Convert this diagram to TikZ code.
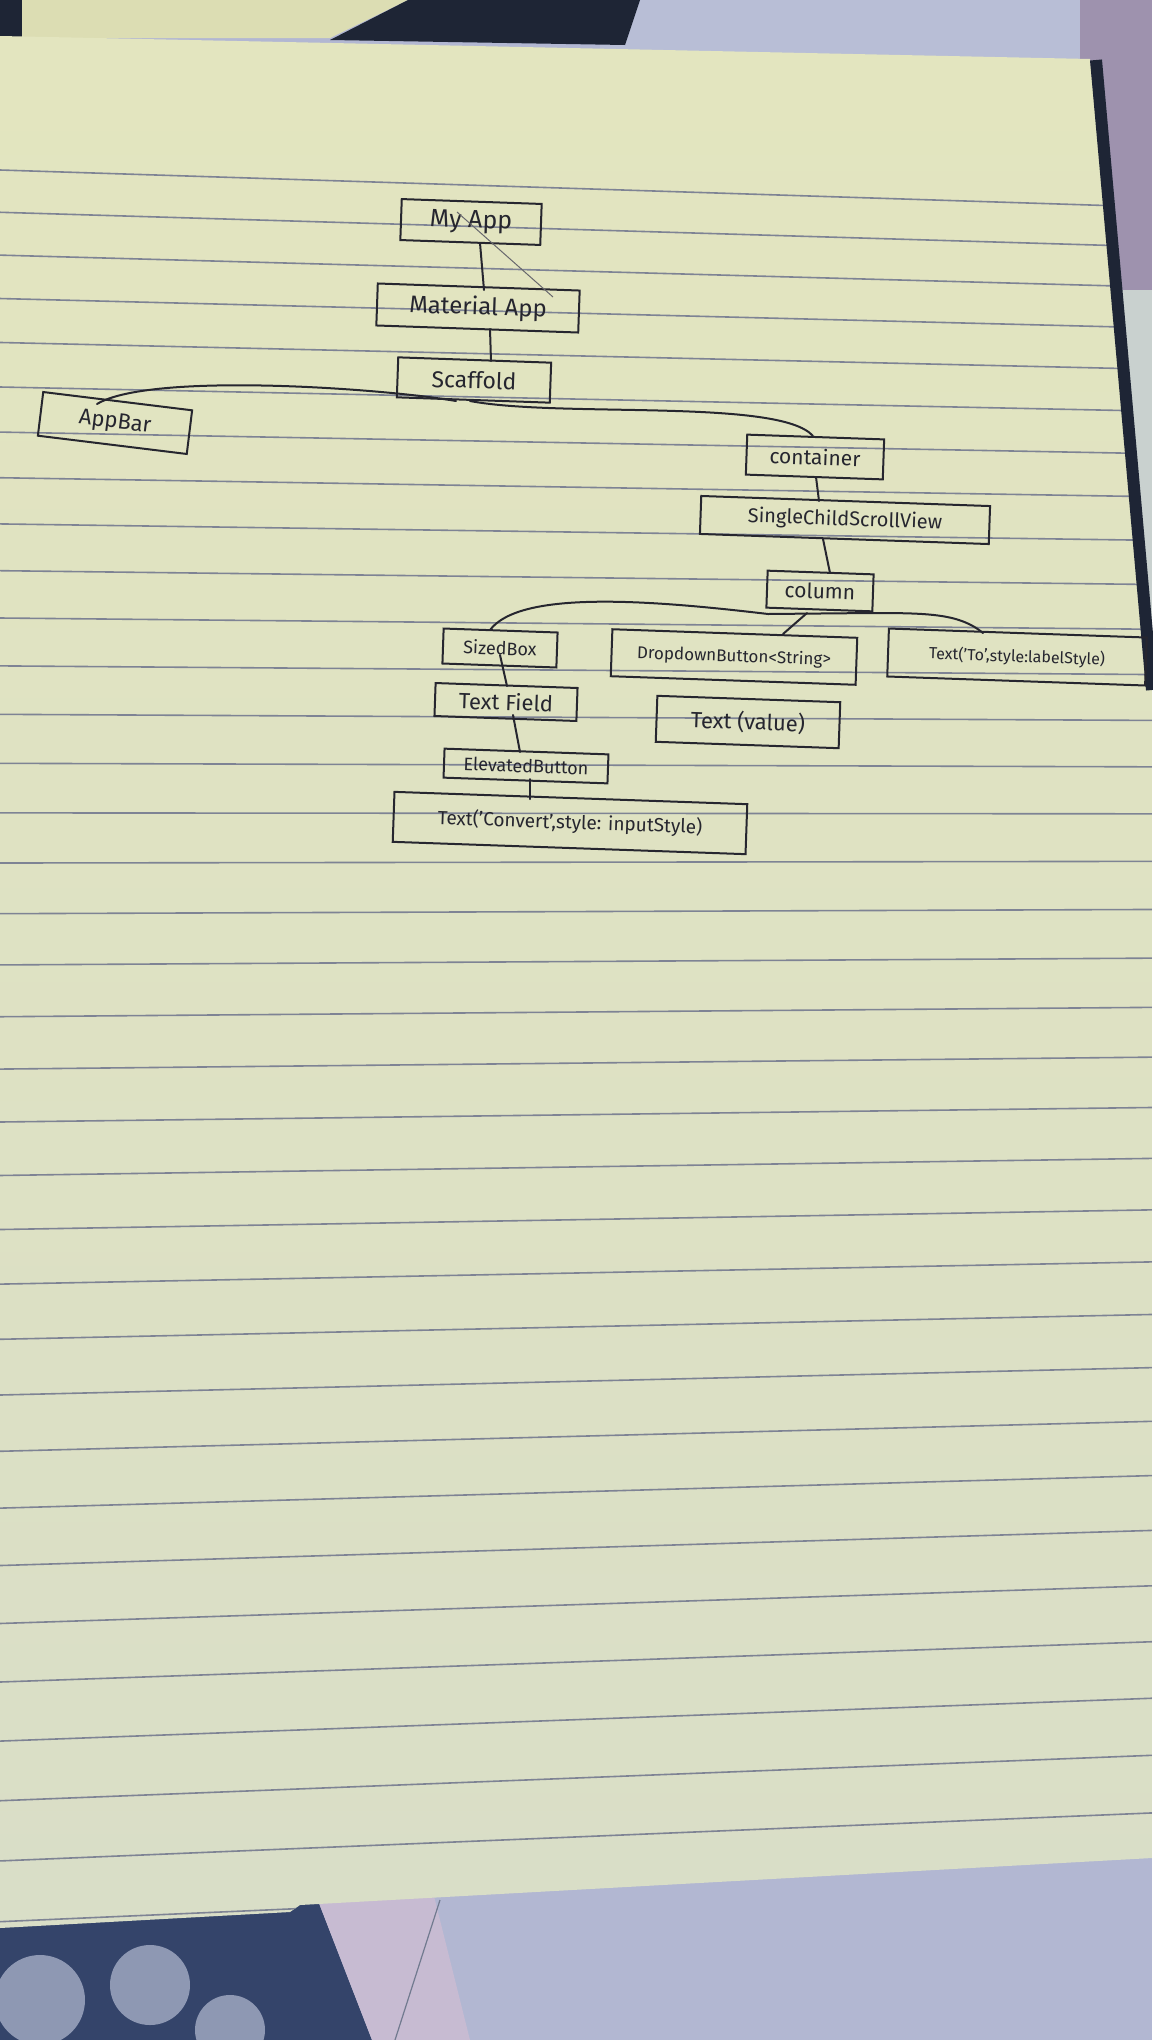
\documentclass[tikz,border=0pt]{standalone}
\usepackage{fontspec}
\setmainfont{Fira Sans}
\usetikzlibrary{calc}
\definecolor{ink}{HTML}{26262F}
\definecolor{paperT}{HTML}{E3E5BF}
\definecolor{paperB}{HTML}{D9DEC7}
\definecolor{rulec}{HTML}{7E8394}
\definecolor{navy}{HTML}{1E2535}
\definecolor{lav}{HTML}{B8BED6}
\definecolor{mauve}{HTML}{9E92AE}
\definecolor{pale}{HTML}{C9D1CF}
\definecolor{sheet}{HTML}{DCDDB3}
\definecolor{deepblue}{HTML}{34446A}
\definecolor{blob}{HTML}{8E98B3}
\definecolor{pinkish}{HTML}{C7BBD2}
\definecolor{cloth}{HTML}{B2B7D2}
\begin{document}
\begin{tikzpicture}[x=1pt,y=-1pt,
  box/.style={draw=ink, line width=2pt, inner sep=0pt, text=ink, rotate=-2},
  link/.style={draw=ink, line width=2pt, line cap=round},
  faint/.style={draw=ink!70, line width=1pt},
  rule/.style={draw=rulec, line width=1.6pt}]
\useasboundingbox (0,0) rectangle (1152,2040);
% surroundings
\fill[cloth] (0,0) rectangle (1152,2040);
\fill[lav] (600,0) rectangle (1152,70);
\fill[navy] (0,0) rectangle (22,40);
\fill[sheet] (22,0) -- (408,0) -- (330,38) -- (22,38) -- cycle;
\fill[navy] (408,0) -- (640,0) -- (625,45) -- (330,40) -- cycle;
\fill[mauve] (1080,0) rectangle (1152,290);
\fill[pale] (1100,290) rectangle (1152,690);
\fill[deepblue] (0,1880) -- (310,1880) -- (372,2040) -- (0,2040) -- cycle;
\fill[blob] (40,2000) circle (45);
\fill[blob] (150,1985) circle (40);
\fill[blob] (230,2030) circle (35);
\fill[pinkish] (310,1880) -- (430,1880) -- (470,2040) -- (372,2040) -- cycle;
\draw[blob!80!black, line width=1.2pt] (440,1900) -- (395,2040);
% paper
\path[shade, top color=paperT, bottom color=paperB]
  (0,36) -- (1090,59) -- (1148,680) -- (1152,680) -- (1152,1858)
  -- (300,1905) -- (290,1912) -- (0,1928) -- cycle;
\begin{scope}
  \clip (0,36) -- (1090,59) -- (1148,680) -- (1152,680) -- (1152,1858)
  -- (300,1905) -- (290,1912) -- (0,1928) -- cycle;
  \foreach \k in {0,...,34} {
    \pgfmathsetmacro\yl{170+42*\k+0.28*\k*\k}
    \pgfmathsetmacro\yr{\yl+37-85*\k/33}
    \draw[rule] (0,\yl) -- (1152,\yr);
  }
\end{scope}
\draw[navy, line width=12pt] (1096,60) -- (1152,690);
% nodes
\node[box, minimum width=140, minimum height=41, font=\fontsize{25}{28}\selectfont] (myapp) at (471,222) {My App};
\node[box, minimum width=202, minimum height=42, font=\fontsize{24}{28}\selectfont] (material) at (478,308) {Material App};
\node[box, minimum width=153, minimum height=40, font=\fontsize{23}{26}\selectfont] (scaffold) at (474,380) {Scaffold};
\node[box, rotate=-5, minimum width=150, minimum height=44, font=\fontsize{22}{26}\selectfont] (appbar) at (115,423) {AppBar};
\node[box, minimum width=137, minimum height=40, font=\fontsize{21}{24}\selectfont] (container) at (815,457) {container};
\node[box, minimum width=289, minimum height=38, font=\fontsize{20}{24}\selectfont] (scv) at (845,520) {SingleChildScrollView};
\node[box, minimum width=106, minimum height=37, font=\fontsize{21}{24}\selectfont] (column) at (820,591) {column};
\node[box, minimum width=114, minimum height=35, font=\fontsize{18}{22}\selectfont] (sizedbox) at (500,648) {SizedBox};
\node[box, minimum width=245, minimum height=47, font=\fontsize{17}{20}\selectfont] (dropdown) at (734,657) {DropdownButton<String>};
\node[box, minimum width=258, minimum height=48, font=\fontsize{16}{20}\selectfont] (textto) at (1017,657) {Text('To',style:labelStyle)};
\node[box, minimum width=142, minimum height=33, font=\fontsize{22}{24}\selectfont] (textfield) at (506,702) {Text Field};
\node[box, minimum width=183, minimum height=46, font=\fontsize{22}{24}\selectfont] (textvalue) at (748,722) {Text (value)};
\node[box, minimum width=164, minimum height=29, font=\fontsize{18}{20}\selectfont] (elevated) at (526,766) {ElevatedButton};
\node[box, minimum width=353, minimum height=50, font=\fontsize{19}{22}\selectfont] (textconvert) at (570,823) {Text('Convert',style: inputStyle)};
% connectors
\draw[link] ($(myapp.center)+(9,21)$) -- ($(material.center)+(6,-18)$);
\draw[faint] ($(myapp.center)+(-14,-10)$) -- ($(material.center)+(75,-11)$);
\draw[link] ($(material.center)+(12,21)$) -- ($(scaffold.center)+(17,-19)$);
\draw[link] ($(scaffold.center)+(-18,21)$) .. controls (380,388) and (150,372) .. ($(appbar.center)+(-18,-19)$);
\draw[link] ($(scaffold.center)+(-4,21)$) .. controls (560,418) and (780,398) .. ($(container.center)+(-2,-21)$);
\draw[link] ($(container.center)+(1,20)$) -- ($(scv.center)+(-26,-19)$);
\draw[link] ($(scv.center)+(-22,19)$) -- ($(column.center)+(10,-18)$);
\draw[link] ($(column.center)+(-52,23)$) .. controls (650,600) and (520,590) .. ($(sizedbox.center)+(-10,-18)$);
\draw[link] ($(column.center)+(-52,23)$) -- (872,613) .. controls (930,613) and (960,614) .. ($(textto.center)+(-34,-24)$);
\draw[link] ($(column.center)+(-13,22)$) -- ($(dropdown.center)+(49,-23)$);
\draw[link] ($(sizedbox.center)+(0,7)$) -- ($(textfield.center)+(1,-16)$);
\draw[link] ($(textfield.center)+(7,13)$) -- ($(elevated.center)+(-6,-14)$);
\draw[link] ($(elevated.center)+(4,13)$) -- ($(textconvert.center)+(-40,-24)$);
\end{tikzpicture}
\end{document}
